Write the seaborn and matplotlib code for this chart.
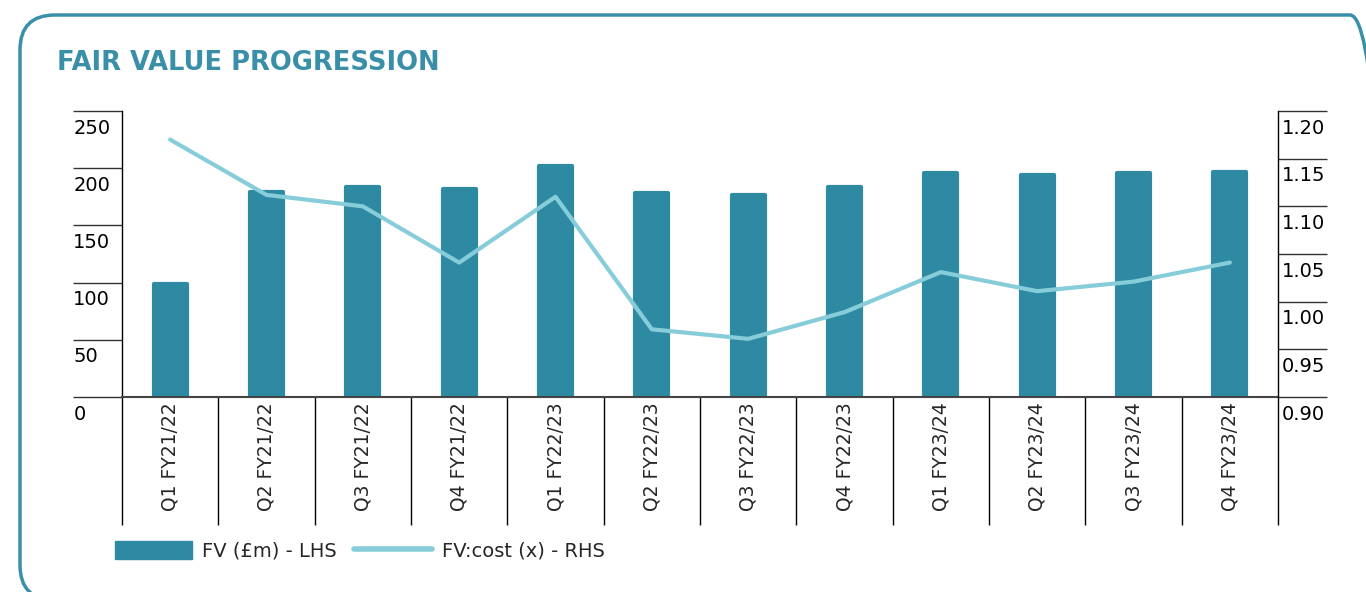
import numpy as np
import pandas as pd
import matplotlib
matplotlib.use('Agg')
import matplotlib.pyplot as plt
from matplotlib.patches import FancyBboxPatch, Patch
from matplotlib.lines import Line2D
import seaborn as sns

quarters = ['Q1 FY21/22', 'Q2 FY21/22', 'Q3 FY21/22', 'Q4 FY21/22',
            'Q1 FY22/23', 'Q2 FY22/23', 'Q3 FY22/23', 'Q4 FY22/23',
            'Q1 FY23/24', 'Q2 FY23/24', 'Q3 FY23/24', 'Q4 FY23/24']
fv = [99, 179, 184, 182, 202, 178, 177, 184, 196, 194, 196, 197]
fv_cost = [1.170, 1.112, 1.100, 1.041, 1.110, 0.971, 0.961, 0.989, 1.031, 1.011, 1.021, 1.041]
left_ticks = [0, 50, 100, 150, 200, 250]
right_ticks = [0.90, 0.95, 1.00, 1.05, 1.10, 1.15, 1.20]

bar_color = '#2e8aa3'
line_color = '#86cdd9'
teal = '#3a8fa8'

sns.set_style('white')
plt.rcParams['font.family'] = ['DejaVu Sans']

df = pd.DataFrame({'quarter': quarters, 'fv': fv, 'ratio': fv_cost})
df['pos'] = np.arange(len(df))

fig = plt.figure(figsize=(13.66, 5.92), dpi=100)
ax = fig.add_axes([0.0893, 0.3294, 0.8463, 0.4831])

# frame round the whole panel
frame = FancyBboxPatch((0.2, -0.08), 13.65, 5.85,
                       boxstyle='round,pad=0,rounding_size=0.35',
                       transform=fig.dpi_scale_trans, fill=False,
                       edgecolor=teal, linewidth=2.5)
fig.patches.append(frame)

fig.text(57 / 1366, 1 - 63 / 592, 'FAIR VALUE PROGRESSION', color=teal,
         fontsize=18.5, fontweight='bold', va='center', ha='left')

# rounded joins give the soft bar corners
sns.barplot(data=df, x='quarter', y='fv', color=bar_color, width=0.34,
            saturation=1, ax=ax, edgecolor=bar_color, linewidth=3)
for p in ax.patches:
    p.set_joinstyle('round')
ax.set_ylim(0, 250)
ax.set_xlim(-0.5, len(quarters) - 0.5)
ax.set_xlabel('')
ax.set_ylabel('')

ax2 = ax.twinx()
sns.lineplot(data=df, x='pos', y='ratio', color=line_color, linewidth=3, ax=ax2)
ax2.set_ylim(0.90, 1.20)
ax2.set_xlim(-0.5, len(quarters) - 0.5)
ax2.set_ylabel('')
ax2.set_xlabel('')

for a in (ax, ax2):
    for s in a.spines.values():
        s.set_visible(False)

ax.spines['left'].set_visible(True)
ax.spines['left'].set_color('black')
ax.spines['left'].set_linewidth(1)
ax2.spines['right'].set_visible(True)
ax2.spines['right'].set_color('black')
ax2.spines['right'].set_linewidth(1)
ax.spines['bottom'].set_visible(True)
ax.spines['bottom'].set_color('#444444')
ax.spines['bottom'].set_linewidth(1.5)
ax.spines['bottom'].set_zorder(5)

# long tick lines, labels placed below them as text
ax.set_yticks(left_ticks)
ax.set_yticklabels([])
ax.tick_params(axis='y', direction='out', length=35, width=1, color='#333333', left=True)
ax2.set_yticks(right_ticks)
ax2.set_yticklabels([])
ax2.tick_params(axis='y', direction='out', length=35, width=1, color='#333333', right=True)

for v in left_ticks:
    ax.annotate(str(v), xy=(0, v), xycoords=('axes fraction', 'data'),
                xytext=(-35, -5.5), textcoords='offset points',
                ha='left', va='top', fontsize=14, color='black', annotation_clip=False)
for v in right_ticks:
    ax2.annotate(f'{v:.2f}', xy=(1, v), xycoords=('axes fraction', 'data'),
                 xytext=(3, -5.5), textcoords='offset points',
                 ha='left', va='top', fontsize=14, color='black', annotation_clip=False)

# category labels and dividers
ax.set_xticks(np.arange(len(quarters)))
ax.set_xticklabels(quarters, rotation=90, fontsize=13.5, va='top', ha='center')
ax.tick_params(axis='x', which='major', length=0, pad=4)
ax.set_xticks(np.arange(len(quarters) + 1) - 0.5, minor=True)
ax.tick_params(axis='x', which='minor', direction='out', length=92, width=1,
               color='black', bottom=True)
ax2.tick_params(axis='x', bottom=False, labelbottom=False)

handles = [Patch(facecolor=bar_color, edgecolor=bar_color),
           Line2D([0], [0], color=line_color, linewidth=4)]
fig.legend(handles, ['FV (£m) - LHS', 'FV:cost (x) - RHS'], loc='center left',
           bbox_to_anchor=(97 / 1366, 1 - 551 / 592), ncol=2, frameon=False,
           fontsize=14, handlelength=4.0, handleheight=1.0, columnspacing=0.9,
           handletextpad=0.5)

fig.savefig('out.png', dpi=100)
